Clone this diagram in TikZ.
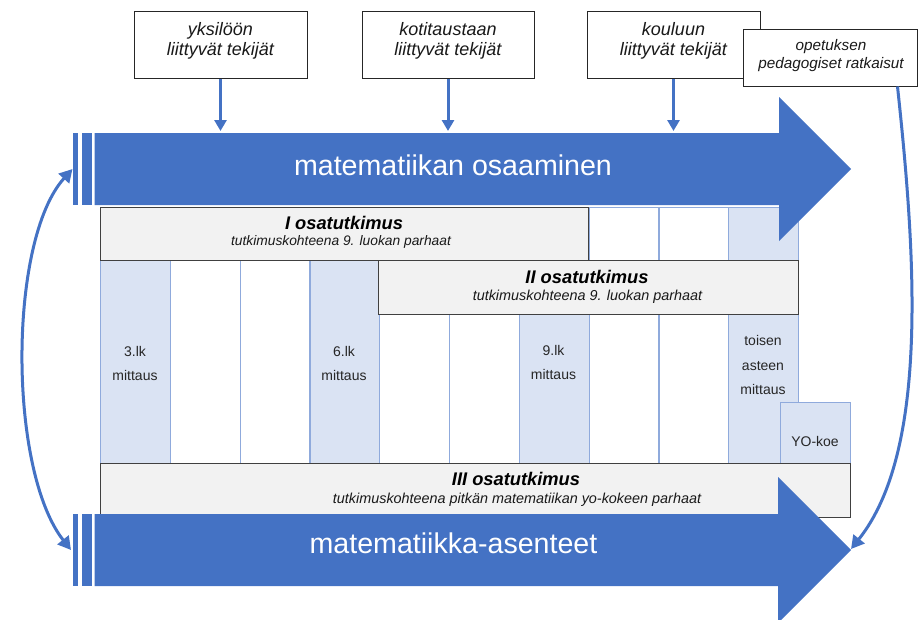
\documentclass[tikz,border=0pt]{standalone}
\usepackage{fontspec}
\setmainfont{Liberation Sans}
\usetikzlibrary{arrows.meta,calc}
\definecolor{arrowblue}{HTML}{4472C4}
\definecolor{colfill}{HTML}{DAE3F3}
\definecolor{colline}{HTML}{8FAADC}
\definecolor{boxfill}{HTML}{F2F2F2}
\definecolor{boxline}{HTML}{404040}
\tikzset{
  colbox/.style={draw=colline, line width=1.2pt, inner sep=0pt, anchor=north west,
    minimum width=69.8pt, minimum height=256pt},
  studybox/.style={draw=boxline, fill=boxfill, line width=1.1pt, inner sep=0pt, anchor=north west},
  topbox/.style={draw=black!85, fill=white, line width=1pt, inner sep=0pt},
  boxtitle/.style={anchor=base, inner sep=0pt, font=\fontsize{18.3}{20}\selectfont\bfseries\itshape},
  boxsub/.style={anchor=base, inner sep=0pt, font=\fontsize{14.4}{16}\selectfont\itshape, text=black!90},
  coltext/.style={anchor=base, inner sep=0pt, font=\fontsize{14}{16}\selectfont, text=black!85},
  toptext/.style={anchor=base, inner sep=0pt, font=\fontsize{18}{20}\selectfont\itshape, text=black!90},
  smalltop/.style={anchor=base, inner sep=0pt, font=\fontsize{15.3}{18}\selectfont\itshape, text=black!90},
  bigtext/.style={inner sep=0pt, text=white, font=\fontsize{28.6}{32}\selectfont},
  conn/.style={draw=arrowblue, line width=3pt, -{Triangle[width=12pt,length=11pt]}},
  curveconn/.style={draw=arrowblue, line width=3pt}
}
\begin{document}
\begin{tikzpicture}[x=1pt,y=-1pt]
\useasboundingbox (0,0) rectangle (921,619);

% time columns
\foreach \n/\xl/\fc in {1/100/colfill, 2/169.8/white, 3/239.6/white, 4/309.4/colfill,
  5/379.2/white, 6/449/white, 7/518.8/colfill, 8/588.6/white, 9/658.4/white, 10/728.2/colfill}
  \node[colbox, fill=\fc] (col\n) at (\xl,207) {};
\node[colbox, fill=colfill, minimum width=70pt, minimum height=61pt] (yo) at (780,402) {};

% column labels
\node[coltext] (c1a) at (135,356) {3.lk};
\node[coltext] (c1b) at (135,380) {mittaus};
\node[coltext] (c4a) at (344,356) {6.lk};
\node[coltext] (c4b) at (344,380) {mittaus};
\node[coltext] (c7a) at (553.5,355) {9.lk};
\node[coltext] (c7b) at (553.5,379) {mittaus};
\node[coltext] (c10a) at (763,345.5) {toisen};
\node[coltext] (c10b) at (763,370) {asteen};
\node[coltext] (c10c) at (763,394.5) {mittaus};
\node[coltext] (yot) at (815,446.5) {YO-koe};

% sub-studies
\node[studybox, minimum width=488pt, minimum height=53pt] (s1) at (100,207) {};
\node[boxtitle] (s1t) at (344,229) {I osatutkimus};
\node[boxsub, font=\fontsize{13.8}{16}\selectfont\itshape] (s1s) at (341,245) {tutkimuskohteena 9. luokan parhaat};

\node[studybox, minimum width=420pt, minimum height=54pt] (s2) at (378,260) {};
\node[boxtitle] (s2t) at (587,283) {II osatutkimus};
\node[boxsub] (s2s) at (587.5,300) {tutkimuskohteena 9. luokan parhaat};

\node[studybox, minimum width=750pt, minimum height=54pt] (s3) at (100,463) {};
\node[boxtitle] (s3t) at (516,485.7) {III osatutkimus};
\node[boxsub] (s3s) at (517,503) {tutkimuskohteena pitkän matematiikan yo-kokeen parhaat};

% upper arrow: mathematical competence
\fill[arrowblue] (72.7,133) rectangle (77.9,205);
\fill[arrowblue] (81.7,133) rectangle (91.5,205);
\fill[arrowblue] (94.5,133) -- (779,133) -- (779,97) -- (851,169) -- (779,241)
  -- (779,205) -- (94.5,205) -- cycle;
\coordinate (upTop) at (94.5,133);
\coordinate (upLeft) at (72.5,169);
\node[bigtext] (upText) at (453,165) {matematiikan osaaminen};

% lower arrow: attitudes towards mathematics
\fill[arrowblue] (72.7,514) rectangle (77.9,586);
\fill[arrowblue] (81.7,514) rectangle (91.5,586);
\fill[arrowblue] (94.5,514) -- (778,514) -- (778,477) -- (851,550) -- (778,623)
  -- (778,586) -- (94.5,586) -- cycle;
\coordinate (lowLeft) at (71,550);
\coordinate (lowTip) at (851,549);
\node[bigtext] (lowText) at (453.5,543) {matematiikka-asenteet};

% factor boxes
\node[topbox, minimum width=173pt, minimum height=67pt] (b1) at (220.5,44.5) {};
\node[toptext] (b1a) at (220.5,35) {yksilöön};
\node[toptext] (b1b) at (220.5,55) {liittyvät tekijät};

\node[topbox, minimum width=172pt, minimum height=67pt] (b2) at (448,44.5) {};
\node[toptext] (b2a) at (448,35) {kotitaustaan};
\node[toptext] (b2b) at (448,55) {liittyvät tekijät};

\node[topbox, minimum width=173pt, minimum height=67pt] (b3) at (673.5,44.5) {};
\node[toptext] (b3a) at (673.5,35) {kouluun};
\node[toptext] (b3b) at (673.5,55) {liittyvät tekijät};

\node[topbox, minimum width=174pt, minimum height=57pt] (b4) at (830,57.5) {};
\node[smalltop] (b4a) at (831,50) {opetuksen};
\node[smalltop] (b4b) at (831,68) {pedagogiset ratkaisut};

% influences on competence
\draw[conn, shorten >=2pt] (b1.south) -- (b1.south |- upTop);
\draw[conn, shorten >=2pt] (b2.south) -- (b2.south |- upTop);
\draw[conn, shorten >=2pt] (b3.south) -- (b3.south |- upTop);

% curved connectors
\draw[curveconn, {Triangle[width=14pt,length=13pt]}-{Triangle[width=14pt,length=13pt]}]
  (upLeft) .. controls (8,240) and (8,470) .. (lowLeft);
\draw[curveconn, -{Triangle[width=14pt,length=13pt]}]
  ($(b4.south east)+(-20,0)$) .. controls (915,250) and (930,450) .. (lowTip);
\end{tikzpicture}
\end{document}
